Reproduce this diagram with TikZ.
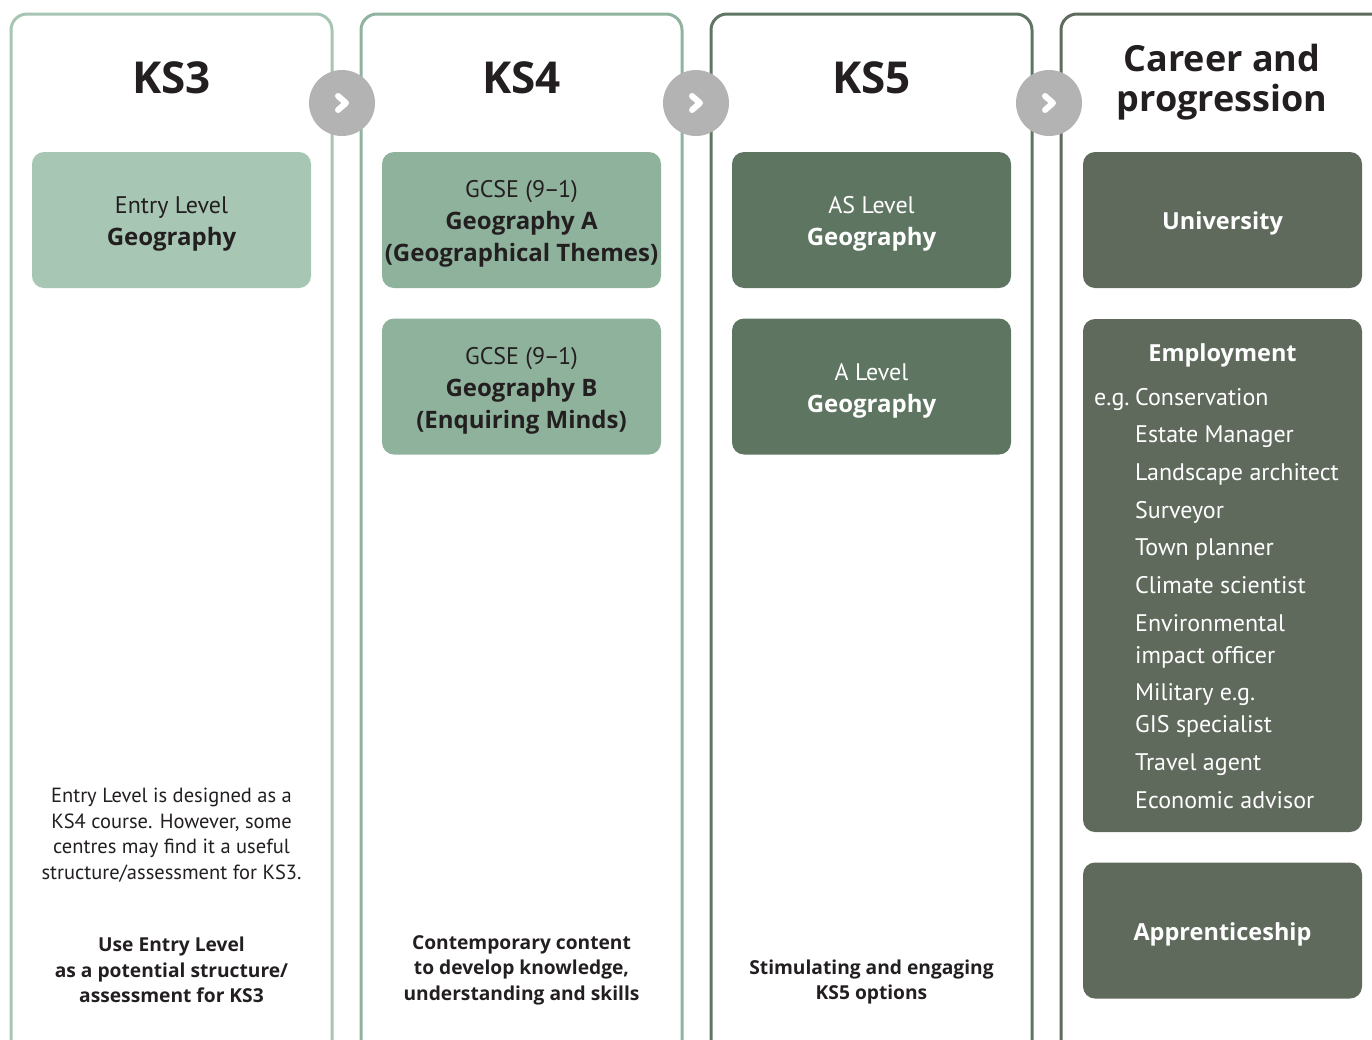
\documentclass[tikz,border=0pt]{standalone}
\usepackage{fontspec}
\setmainfont{PT Sans}[BoldFont={Open Sans Bold}]
\usetikzlibrary{positioning}

\definecolor{lineA}{HTML}{A8C5B3}
\definecolor{lineB}{HTML}{8FB39E}
\definecolor{lineC}{HTML}{5F7662}
\definecolor{lineD}{HTML}{5E6B5E}
\definecolor{fillA}{HTML}{A8C6B4}
\definecolor{fillB}{HTML}{8FB29D}
\definecolor{fillC}{HTML}{5E7661}
\definecolor{fillD}{HTML}{5F6A5D}
\definecolor{stepgrey}{HTML}{B3B3B3}
\definecolor{ink}{HTML}{231F20}

% extra room above the first line of a card
\newcommand{\lift}{\rule{0pt}{25.5pt}}
\newcommand{\gcse}{GCSE (9\kern-1.5pt--\kern-1.5pt1)}

\tikzset{
  column/.style={line width=3pt, rounded corners=16pt},
  card/.style={rectangle, rounded corners=12pt, minimum width=279pt, minimum height=136pt,
    inner sep=0pt, align=center, font=\fontsize{24}{32}\selectfont},
  boldcard/.style={card, text=white, font=\bfseries\fontsize{23.5}{32}\selectfont},
  heading/.style={align=center, text=ink, font=\bfseries\fontsize{44}{40}\selectfont},
  note/.style={align=center, text=ink, font=\fontsize{20.5}{25.5}\selectfont},
  boldnote/.style={note, font=\bfseries\fontsize{19.2}{25.5}\selectfont},
  job/.style={anchor=base west, inner sep=0pt, text=white, font=\fontsize{24}{32}\selectfont},
  stepdot/.style={circle, fill=stepgrey, minimum size=66pt, inner sep=0pt},
  chevron/.style={white, line width=6pt, line cap=round, line join=round}
}

\begin{document}
\begin{tikzpicture}[x=1pt, y=-1pt]
\useasboundingbox (0,0) rectangle (1372,1039);
\clip (0,0) rectangle (1372,1039);

% the four stage columns
\draw[column, lineA] (11,1060) -- (11,14) -- (332,14) -- (332,1060);
\draw[column, lineB] (361,1060) -- (361,14) -- (682,14) -- (682,1060);
\draw[column, lineC] (711,1060) -- (711,14) -- (1032,14) -- (1032,1060);
\draw[column, lineD] (1061,1060) -- (1061,14) -- (1392,14) -- (1392,1060);

% headings
\node[heading] (ks3) at (171.5,78) {KS3};
\node[heading] (ks4) at (521.5,78) {KS4};
\node[heading] (ks5) at (871.5,78) {KS5};
\node[heading, font=\bfseries\fontsize{36}{40}\selectfont] (career) at (1222,82) {Career and\\progression};

% KS3
\node[card, fill=fillA, text=ink] (entry) at (171.5,220) {\lift Entry Level\\\textbf{Geography}};
\node[note] (entrynote) at (171.5,835) {Entry Level is designed as a\\KS4 course. However, some\\centres may find it a useful\\structure/assessment for KS3.};
\node[boldnote] (ks3sum) at (171.5,970) {Use Entry Level\\as a potential structure/\\assessment for KS3};

% KS4
\node[card, fill=fillB, text=ink] (gcsea) at (521.5,220) {\lift\gcse\\\textbf{Geography A}\\\textbf{(Geographical Themes)}};
\node[card, fill=fillB, text=ink] (gcseb) at (521.5,386.5) {\lift\gcse\\\textbf{Geography B}\\\textbf{(Enquiring Minds)}};
\node[boldnote] (ks4sum) at (521.5,970) {Contemporary content\\to develop knowledge,\\understanding and skills};

% KS5
\node[card, fill=fillC, text=white] (aslevel) at (871.5,220) {\lift AS Level\\\textbf{Geography}};
\node[card, fill=fillC, text=white] (alevel) at (871.5,386.5) {\lift A Level\\\textbf{Geography}};
\node[boldnote] (ks5sum) at (871.5,982) {Stimulating and engaging\\KS5 options};

% career and progression
\node[boldcard, fill=fillD] (uni) at (1222.5,220) {\lift University};
\node[card, fill=fillD, minimum height=513pt] (employ) at (1222.5,575.5) {};
\node[boldcard, fill=fillD] (apprentice) at (1222.5,930.5) {\lift Apprenticeship};

\node[job, anchor=base, font=\bfseries\fontsize{23.5}{32}\selectfont] (employhead) at (1222.5,361) {Employment};
\node[job] (eg) at (1094,405) {e.g.};
\foreach \y/\txt [count=\i] in {405/Conservation, 442/Estate Manager, 480/Landscape architect,
    518/Surveyor, 555/Town planner, 593/Climate scientist, 631/Environmental,
    663/impact officer, 700/Military e.g., 732/GIS specialist, 770/Travel agent,
    808/Economic advisor}
  \node[job] (job\i) at (1135,\y) {\txt};

% step markers between the columns
\node[stepdot] (s1) at (342,103) {};
\node[stepdot] (s2) at (696,103) {};
\node[stepdot] (s3) at (1049,103) {};
\foreach \s in {s1,s2,s3}
  \draw[chevron] ([xshift=-4pt, yshift=7pt]\s.center) -- ([xshift=4pt]\s.center)
    -- ([xshift=-4pt, yshift=-7pt]\s.center);
\end{tikzpicture}
\end{document}
